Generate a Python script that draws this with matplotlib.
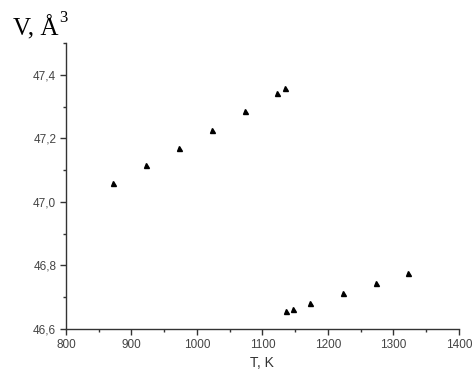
import matplotlib
matplotlib.use("Agg")
import matplotlib.pyplot as plt
from matplotlib.ticker import MultipleLocator, FuncFormatter

# upper branch
t_hi = [872, 922, 973, 1023, 1073, 1123, 1135]
v_hi = [47.060, 47.116, 47.171, 47.227, 47.286, 47.344, 47.358]
# lower branch
t_lo = [1136, 1146, 1173, 1223, 1273, 1323]
v_lo = [46.657, 46.662, 46.680, 46.712, 46.744, 46.777]

x_ticks = [800, 900, 1000, 1100, 1200, 1300, 1400]
y_ticks = [46.6, 46.8, 47.0, 47.2, 47.4]

fig = plt.figure(figsize=(4.73, 3.81), dpi=100)
ax = fig.add_axes([0.1395, 0.137, 0.8305, 0.750])

ax.plot(t_hi, v_hi, linestyle="none", marker="^", color="black", markersize=3.6)
ax.plot(t_lo, v_lo, linestyle="none", marker="^", color="black", markersize=3.6)

ax.set_xlim(800, 1400)
ax.set_ylim(46.6, 47.5)
ax.set_xticks(x_ticks)
ax.set_yticks(y_ticks)
ax.xaxis.set_minor_locator(MultipleLocator(50))
ax.yaxis.set_minor_locator(MultipleLocator(0.1))
ax.yaxis.set_major_formatter(FuncFormatter(lambda v, p: f"{v:.1f}".replace(".", ",")))

for s in ["top", "right"]:
    ax.spines[s].set_visible(False)
for s in ["left", "bottom"]:
    ax.spines[s].set_color("#333333")
    ax.spines[s].set_linewidth(1.0)

ax.tick_params(which="major", direction="out", length=4, width=1, color="#333333",
               labelsize=8.5, labelcolor="#444444", pad=3)
ax.tick_params(which="minor", direction="out", length=2.5, width=1, color="#333333")
for lab in ax.get_xticklabels() + ax.get_yticklabels():
    lab.set_family("Liberation Sans")

ax.set_xlabel("T, K", fontsize=10, color="#333333", family="Liberation Sans", labelpad=4)
# y label sits above the axis, superscript drawn as its own text
fig.text(0.027, 0.908, "V, Å", fontsize=18, family="Liberation Serif",
         ha="left", va="baseline")
fig.text(0.126, 0.942, "3", fontsize=12, family="Liberation Serif",
         ha="left", va="baseline")

fig.savefig("out.png", dpi=100)
